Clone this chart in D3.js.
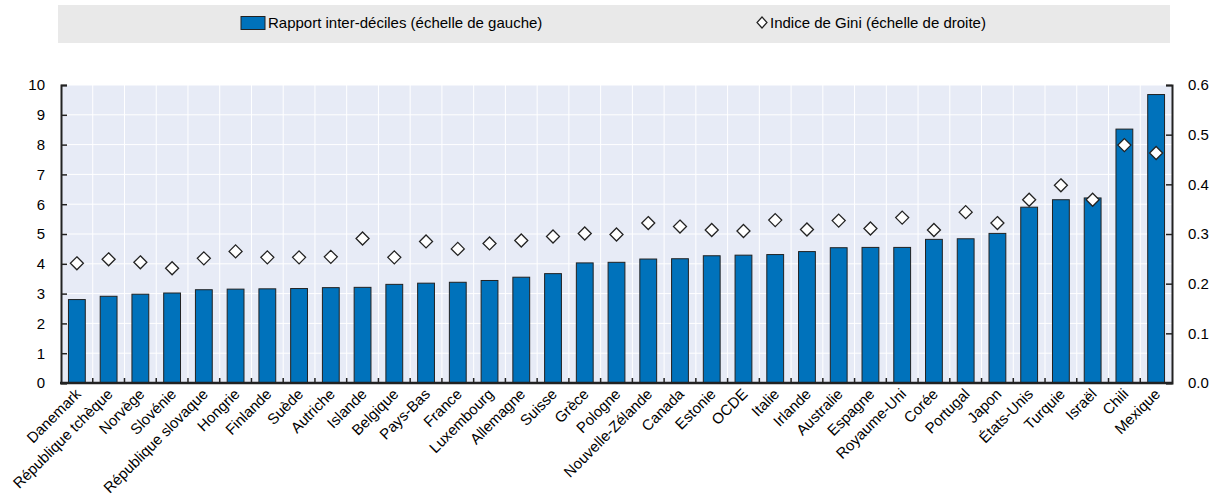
<!DOCTYPE html>
<html>
<head>
<meta charset="utf-8">
<script src="https://cdn.jsdelivr.net/npm/d3@7"></script>
<style>
  body { margin: 0; background: #fff; }
  svg text { font-family: "Liberation Sans", Arial, sans-serif; fill: #000; }
</style>
</head>
<body>
<svg id="chart" width="1218" height="500"></svg>
<script>
var countries = ["Danemark","République tchèque","Norvège","Slovénie","République slovaque","Hongrie","Finlande","Suède","Autriche","Islande","Belgique","Pays-Bas","France","Luxembourg","Allemagne","Suisse","Grèce","Pologne","Nouvelle-Zélande","Canada","Estonie","OCDE","Italie","Irlande","Australie","Espagne","Royaume-Uni","Corée","Portugal","Japon","États-Unis","Turquie","Israël","Chili","Mexique"];
var interDecile = [2.80,2.91,2.98,3.02,3.13,3.15,3.16,3.17,3.20,3.21,3.31,3.35,3.38,3.44,3.55,3.67,4.03,4.05,4.16,4.17,4.27,4.29,4.31,4.41,4.54,4.55,4.55,4.82,4.84,5.02,5.90,6.15,6.21,8.52,9.68];
var gini = [0.241,0.249,0.243,0.231,0.251,0.265,0.253,0.253,0.254,0.291,0.253,0.285,0.270,0.281,0.287,0.295,0.301,0.299,0.322,0.315,0.308,0.306,0.328,0.309,0.327,0.311,0.333,0.308,0.344,0.322,0.369,0.398,0.369,0.479,0.463];
var leftTicks = [0,1,2,3,4,5,6,7,8,9,10];
var rightTicks = [0,0.1,0.2,0.3,0.4,0.5,0.6];
var legendLabels = ["Rapport inter-déciles (échelle de gauche)", "Indice de Gini (échelle de droite)"];

var svg = d3.select("#chart");
var pL = 61, pR = 1172, pT = 85, pB = 383;

var x = d3.scaleBand().domain(countries).range([pL, pR]).paddingInner(0.47).paddingOuter(0.235);
var xb = d3.scaleBand().domain(countries).range([pL, pR]);
var yL = d3.scaleLinear().domain([0, 10]).range([pB, pT]);
var yR = d3.scaleLinear().domain([0, 0.6]).range([pB, pT]);

// legend box
svg.append("rect").attr("x", 58).attr("y", 5).attr("width", 1112).attr("height", 38).attr("fill", "#e9e9e9");
svg.append("rect").attr("x", 241).attr("y", 16.5).attr("width", 24).attr("height", 13)
  .attr("fill", "#0072bb").attr("stroke", "#222").attr("stroke-width", 1);
svg.append("text").attr("x", 268).attr("y", 28).attr("font-size", 15).text(legendLabels[0]);
svg.append("path").attr("d", "M762,17 L767,22.5 L762,28 L757,22.5 Z")
  .attr("fill", "#fff").attr("stroke", "#222").attr("stroke-width", 1.2);
svg.append("text").attr("x", 770).attr("y", 28).attr("font-size", 15).text(legendLabels[1]);

// plot background
svg.append("rect").attr("x", pL).attr("y", pT).attr("width", pR - pL).attr("height", pB - pT).attr("fill", "#e7ebf6");

// grid
svg.append("g").selectAll("line").data(leftTicks).enter().append("line")
  .attr("x1", pL).attr("x2", pR).attr("y1", function(d){return yL(d);}).attr("y2", function(d){return yL(d);})
  .attr("stroke", "#fff").attr("stroke-width", 1);
svg.append("g").selectAll("line").data(countries.slice(1)).enter().append("line")
  .attr("x1", function(d){return xb(d);}).attr("x2", function(d){return xb(d);})
  .attr("y1", pT).attr("y2", pB)
  .attr("stroke", "#fff").attr("stroke-width", 1);

// bars
svg.append("g").selectAll("rect").data(countries).enter().append("rect")
  .attr("x", function(d){return x(d);})
  .attr("y", function(d,i){return yL(interDecile[i]);})
  .attr("width", x.bandwidth())
  .attr("height", function(d,i){return pB - yL(interDecile[i]);})
  .attr("fill", "#0072bb").attr("stroke", "#222").attr("stroke-width", 1);

// diamonds
svg.append("g").selectAll("path").data(countries).enter().append("path")
  .attr("transform", function(d,i){return "translate(" + (x(d) + x.bandwidth()/2) + "," + yR(gini[i]) + ")";})
  .attr("d", "M0,-6.5 L6.5,0 L0,6.5 L-6.5,0 Z")
  .attr("fill", "#fff").attr("stroke", "#222").attr("stroke-width", 1.3);

// left axis
var gL = svg.append("g").attr("transform", "translate(" + pL + ",0)")
  .call(d3.axisLeft(yL).tickValues(leftTicks).tickSize(-6).tickPadding(16).tickFormat(d3.format("d")));
gL.select(".domain").attr("stroke", "#222").attr("stroke-width", 2);
gL.selectAll(".tick line").attr("stroke", "#222").attr("stroke-width", 1.5);
gL.selectAll(".tick text").attr("font-size", 15).attr("font-family", "Liberation Sans, Arial, sans-serif");

// right axis
var gR = svg.append("g").attr("transform", "translate(" + pR + ",0)")
  .call(d3.axisRight(yR).tickValues(rightTicks).tickSize(-6).tickPadding(16).tickFormat(d3.format(".1f")));
gR.select(".domain").attr("stroke", "#222").attr("stroke-width", 2);
gR.selectAll(".tick line").attr("stroke", "#222").attr("stroke-width", 1.5);
gR.selectAll(".tick text").attr("font-size", 15).attr("font-family", "Liberation Sans, Arial, sans-serif");

// bottom axis
svg.append("g").selectAll("line").data(countries.slice(1)).enter().append("line")
  .attr("x1", function(d){return xb(d);}).attr("x2", function(d){return xb(d);})
  .attr("y1", pB).attr("y2", pB - 5)
  .attr("stroke", "#222").attr("stroke-width", 1.5);
svg.append("line").attr("x1", pL - 1).attr("x2", pR + 1).attr("y1", pB).attr("y2", pB)
  .attr("stroke", "#222").attr("stroke-width", 2.5);

svg.append("g").selectAll("text").data(countries).enter().append("text")
  .attr("transform", function(d){return "translate(" + (x(d) + x.bandwidth()/2 + 5) + "," + (pB + 12) + ") rotate(-45)";})
  .attr("text-anchor", "end").attr("font-size", 15)
  .text(function(d){return d;});
</script>
</body>
</html>
